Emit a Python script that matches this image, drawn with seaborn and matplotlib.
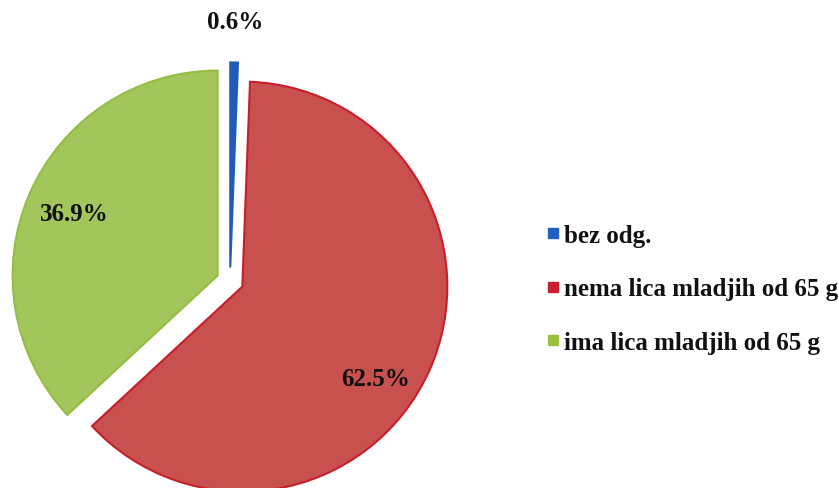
import numpy as np
import matplotlib
matplotlib.use("Agg")
import matplotlib.pyplot as plt
import seaborn as sns
from matplotlib.lines import Line2D

# -----------------------------------
# Data
# -----------------------------------
categories = ["bez odg.", "nema lica mladjih od 65 g", "ima lica mladjih od 65 g"]
shares = [0.6, 62.5, 36.9]
pct_labels = ["0.6%", "62.5%", "36.9%"]

# -----------------------------------
# Style
# -----------------------------------
sns.set_theme(style="white")
plt.rcParams["font.family"] = ["Liberation Serif", "DejaVu Serif"]

fill_colors = ["#1F5CB8", "#C8504E", "#A3C65C"]
edge_colors = ["#1F5CB8", "#C81E2A", "#94BD42"]
legend_colors = ["#1F5FBF", "#C8202E", "#9BC040"]

# label placement per slice: (distance as fraction of radius, angle shift in degrees)
label_place = [(1.2, 0), (0.79, -10), (0.76, 0)]

fig = plt.figure(figsize=(8.39, 4.89), dpi=100)
ax = fig.add_axes([0, 0, 1, 1])

radius = 205
center = (230, 207)
# explode is in data units here, since the pie is drawn in pixel-like coordinates
wedges, _ = ax.pie(
    shares,
    colors=fill_colors,
    startangle=90,
    counterclock=False,
    explode=[0.066 * radius] * len(shares),
    radius=radius,
    center=center,
    wedgeprops=dict(linewidth=1.5),
)
for w, ec in zip(wedges, edge_colors):
    w.set_edgecolor(ec)

# percentage labels
for w, txt, (dist, shift) in zip(wedges, pct_labels, label_place):
    theta = np.deg2rad((w.theta1 + w.theta2) / 2 + shift)
    cx, cy = w.center
    ax.text(cx + dist * radius * np.cos(theta), cy + dist * radius * np.sin(theta),
            txt, ha="center", va="center", fontsize=18, fontweight="bold", color="#111111")

ax.set_xlim(0, 839)
ax.set_ylim(0, 489)
ax.axis("off")

# -----------------------------------
# Legend
# -----------------------------------
handles = [Line2D([0], [0], marker="s", linestyle="none", markersize=7,
                  markerfacecolor=c, markeredgecolor=c) for c in legend_colors]
leg = fig.legend(handles, categories, loc="center left", bbox_to_anchor=(0.632, 0.407),
                 frameon=False, fontsize=18, labelspacing=1.22, handletextpad=0.05,
                 handlelength=0.8, borderpad=0)
for t in leg.get_texts():
    t.set_fontweight("bold")
    t.set_color("#111111")

fig.savefig("out.png", dpi=100, facecolor="white")
